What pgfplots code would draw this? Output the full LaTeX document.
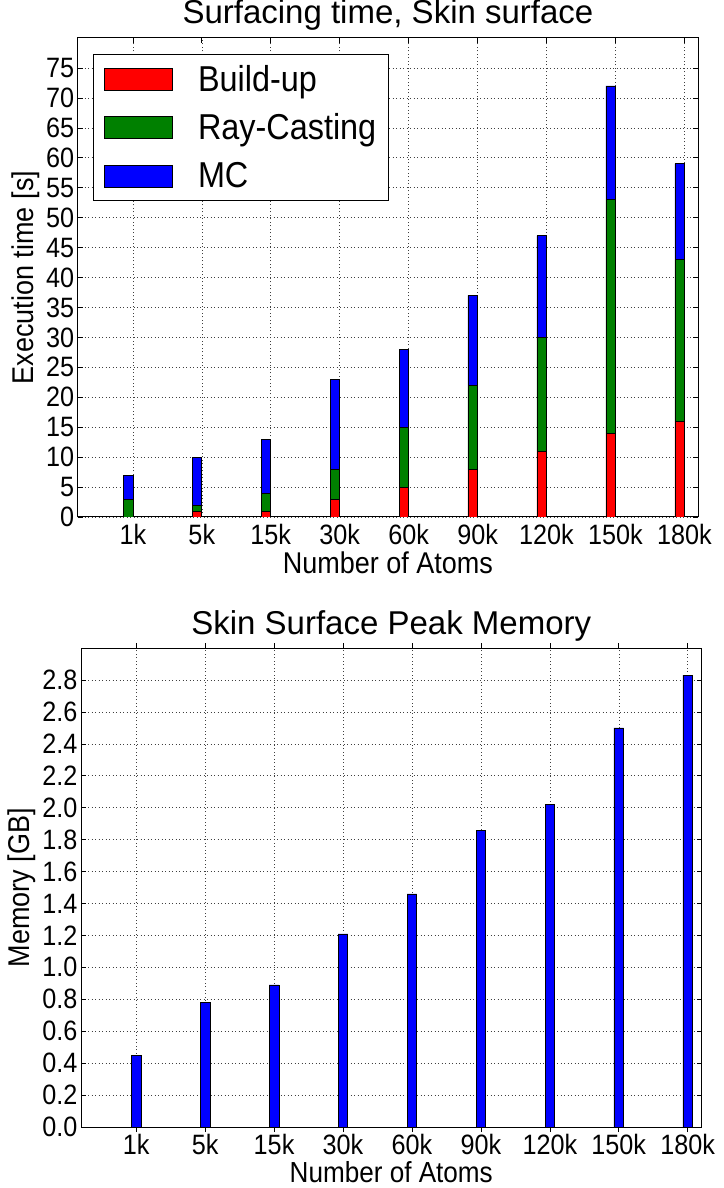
\documentclass[border=0pt]{standalone}
\usepackage{fontspec}
\setmainfont{Liberation Sans}[FakeStretch=0.9]
\newfontfamily\titlefont{Liberation Sans}
\usepackage{pgfplots}
\pgfplotsset{compat=1.18}
\definecolor{mred}{rgb}{1,0,0}
\definecolor{mgreen}{rgb}{0,0.5,0}
\definecolor{mblue}{rgb}{0,0,1}
\pgfplotsset{
  common/.style={
    scale only axis, width=620.5pt, height=479pt,
    xmin=-0.8, xmax=8.2,
    xtick={0,...,8}, xticklabels={1k,5k,15k,30k,60k,90k,120k,150k,180k},
    tick align=inside, major tick length=5pt, tick style={black, line width=0.6pt},
    grid=major, grid style={black!75, dash pattern=on 1pt off 2.5pt, line width=0.5pt},
    axis line style={line width=1pt},
    tick label style={font=\fontsize{28}{30}\selectfont},
    xticklabel style={yshift=-4pt},
    /pgf/number format/assume math mode=true,
    label style={font=\fontsize{30}{32}\selectfont},
    title style={font=\titlefont\fontsize{33}{36}\selectfont, at={(0.5,1)}, anchor=base, yshift=8pt},
    xlabel={Number of Atoms},
    bar width=9.6pt, bar shift=-4.8pt,
  },
  myleg/.style={legend image code/.code={\path[draw=none,fill=none] (0pt,0pt) -- (92pt,0pt); \draw[##1, line width=0.6pt] (0pt,-11pt) rectangle (68pt,11pt);}},
}
\begin{document}
\begin{tikzpicture}[x=1pt,y=1pt]
\useasboundingbox (0,0) rectangle (723,-1188);
\begin{axis}[common,
  at={(77.7pt,-38pt)}, anchor=north west,
  ybar stacked,
  ymin=0, ymax=80, ytick={0,5,...,75},
  ylabel={Execution time [s]},
  title={Surfacing time, Skin surface},
  legend cell align=left,
  legend style={at={(0.025,0.967)}, anchor=north west, draw=black, line width=1pt,
    font=\fontsize{36}{38}\selectfont, row sep=17pt, inner xsep=10pt, inner ysep=9pt},
]
\addplot[fill=mred, draw=black, line width=0.6pt, myleg] coordinates {(0,0) (1,1) (2,1) (3,3) (4,5) (5,8) (6,11) (7,14) (8,16)};
\addplot[fill=mgreen, draw=black, line width=0.6pt, myleg] coordinates {(0,3) (1,1) (2,3) (3,5) (4,10) (5,14) (6,19) (7,39) (8,27)};
\addplot[fill=mblue, draw=black, line width=0.6pt, myleg] coordinates {(0,4) (1,8) (2,9) (3,15) (4,13) (5,15) (6,17) (7,19) (8,16)};
\legend{Build-up, Ray-Casting, MC}
\end{axis}
\begin{axis}[common,
  at={(81pt,-648pt)}, anchor=north west,
  ybar,
  ymin=0, ymax=3.0, ytick={0,0.2,0.4,0.6,0.8,1.0,1.2,1.4,1.6,1.8,2.0,2.2,2.4,2.6,2.8},
  yticklabel style={/pgf/number format/.cd, fixed, fixed zerofill, precision=1},
  xticklabel style={inner sep=0pt, yshift=2pt},
  ylabel={Memory [GB]},
  xlabel style={at={(0.5,0)}, anchor=base, inner sep=0pt, yshift=-55pt, font=\fontsize{29}{31}\selectfont},
  title={Skin Surface Peak Memory},
]
\addplot[fill=mblue, draw=black, line width=0.6pt] coordinates {(0,0.45) (1,0.78) (2,0.89) (3,1.21) (4,1.46) (5,1.86) (6,2.02) (7,2.50) (8,2.83)};
\end{axis}
\end{tikzpicture}
\end{document}
